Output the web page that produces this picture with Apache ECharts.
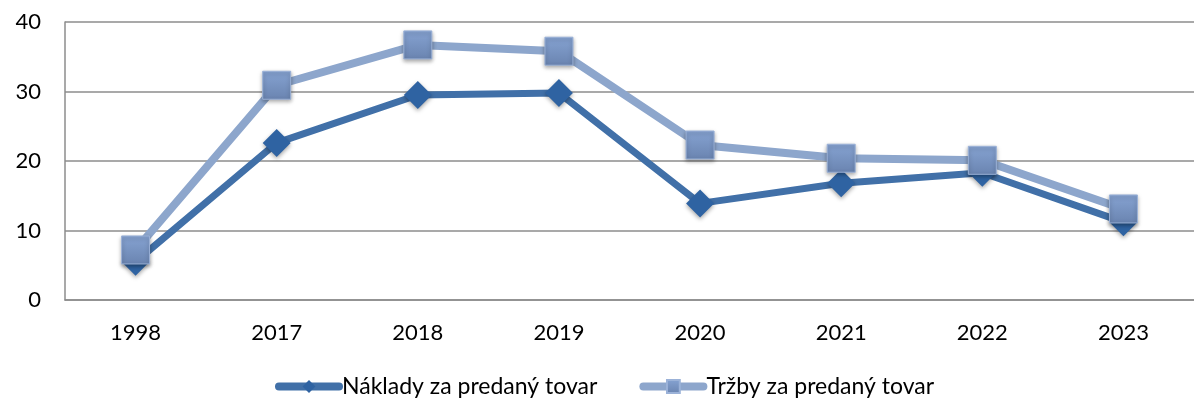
<!DOCTYPE html>
<html>
<head>
<meta charset="utf-8">
<script src="https://cdn.jsdelivr.net/npm/echarts@6/dist/echarts.min.js"></script>
<style>
	html, body { margin: 0; padding: 0; background: #fff; }
	#chart { width: 1194px; height: 405px; }
</style>
</head>
<body>
<div id="chart"></div>
<script>
// data
const years = ['1998', '2017', '2018', '2019', '2020', '2021', '2022', '2023'];
const naklady = [5.5, 22.6, 29.5, 29.8, 13.9, 16.8, 18.3, 11.2];
const trzby = [7.2, 30.9, 36.7, 35.8, 22.3, 20.4, 20.1, 13.1];
const seriesNames = ['Náklady za predaný tovar', 'Tržby za predaný tovar'];

const chart = echarts.init(document.getElementById('chart'));
const font = 'Lato, "Open Sans", sans-serif';

const option = {
	animation: false,
	textStyle: { fontFamily: font },
	grid: {
		left: 65,
		top: 22,
		width: 1136,
		height: 278
	},
	legend: {
		bottom: 2,
		left: 270,
		itemWidth: 60,
		itemHeight: 16,
		itemGap: 42,
		lineStyle: { width: 8, cap: 'round' },
		textStyle: { fontSize: 23, color: '#000', fontFamily: font, padding: [0, 0, 0, -2] },
		data: seriesNames
	},
	xAxis: {
		type: 'category',
		data: years,
		boundaryGap: true,
		axisLine: { lineStyle: { color: '#8c8c8c', width: 1.5 } },
		axisTick: { show: false },
		axisLabel: { fontSize: 22, color: '#000', margin: 22, fontFamily: font }
	},
	yAxis: {
		type: 'value',
		min: 0,
		max: 40,
		interval: 10,
		axisLine: { show: true, lineStyle: { color: '#8c8c8c', width: 1.5 } },
		axisTick: { show: false },
		axisLabel: { fontSize: 22, color: '#000', margin: 24, fontFamily: font },
		splitLine: { lineStyle: { color: '#8c8c8c', width: 1.5 } }
	},
	series: [
		{
			name: seriesNames[0],
			type: 'line',
			data: naklady,
			symbol: 'diamond',
			symbolSize: 28,
			lineStyle: { color: '#4170a8', width: 7 },
			itemStyle: {
				color: '#2f63a2',
				shadowColor: 'rgba(0,0,0,0.35)',
				shadowBlur: 4,
				shadowOffsetY: 2
			}
		},
		{
			name: seriesNames[1],
			type: 'line',
			data: trzby,
			symbol: 'rect',
			symbolSize: 28,
			lineStyle: { color: '#8da6cc', width: 8 },
			itemStyle: {
				color: new echarts.graphic.LinearGradient(0, 0, 0, 1, [
					{ offset: 0, color: '#86a3d2' },
					{ offset: 1, color: '#6a84b0' }
				]),
				borderColor: '#9bb2d8',
				borderWidth: 1,
				shadowColor: 'rgba(0,0,0,0.35)',
				shadowBlur: 4,
				shadowOffsetY: 2
			}
		}
	]
};

chart.setOption(option);

window.addEventListener('resize', () => {
	chart.resize();
});
</script>
</body>
</html>
